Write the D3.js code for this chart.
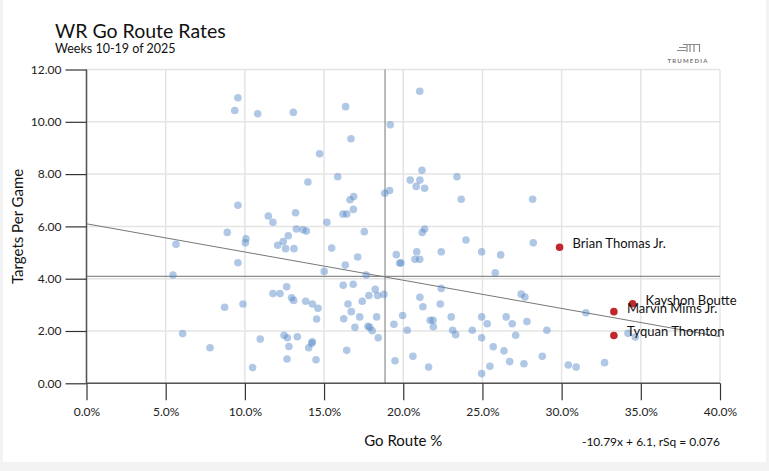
<!DOCTYPE html>
<html>
<head>
<meta charset="utf-8">
<script src="https://cdn.jsdelivr.net/npm/d3@7"></script>
<style>
  body { margin: 0; background: #f3f3f3; font-family: Lato, "Open Sans", sans-serif; }
  svg { display: block; }
</style>
</head>
<body>
<svg id="chart" width="769" height="471"></svg>
<script>
// go route % (x) and targets per game (y)
const goRoutePct = [
  9.56, 9.36, 10.81, 13.06, 16.36, 19.18, 16.70, 14.72, 15.86, 13.98, 18.83, 19.14, 16.87, 16.64, 16.85, 16.19, 16.43, 9.56, 11.48, 13.20, 11.77, 15.18,
  21.04, 21.18, 20.44, 21.05, 20.82, 21.35, 23.39, 23.66, 28.17,
  8.89, 13.25, 13.67, 13.88, 17.54, 5.65, 10.07, 10.03, 12.74, 12.42, 12.07, 12.57, 13.10, 15.48, 9.56, 5.46, 15.01, 16.34, 17.12, 17.66,
  19.56, 19.77, 19.86, 12.64, 11.77, 12.22, 12.95, 13.08, 13.84, 14.26, 14.62, 14.53, 8.72, 9.88, 16.21, 16.84, 18.23, 17.83, 18.38, 18.78,
  16.51, 17.41, 16.72, 17.25, 18.32, 16.24, 16.95, 17.77, 17.88, 18.04, 18.42, 19.41, 19.96, 20.25, 6.07, 7.80, 10.97, 12.47, 12.68, 13.31,
  12.78, 14.26, 14.22, 14.03, 12.66, 14.49, 16.43, 19.48, 10.49,
  21.35, 21.20, 23.96, 28.21, 20.85, 20.74, 21.04, 22.40, 24.95, 26.15, 25.81, 22.40, 21.05, 21.24, 22.34, 21.70, 21.88, 21.90, 23.03, 23.12,
  23.31, 24.36, 24.95, 25.30, 24.95, 26.50, 26.88, 27.81, 27.10, 29.07, 27.45, 27.68, 31.53, 34.19, 34.65, 25.68, 26.36, 20.61, 21.60, 24.95,
  25.47, 26.72, 27.62, 28.78, 30.42, 30.92, 32.71
];
const targetsPerGame = [
  10.92, 10.43, 10.31, 10.36, 10.58, 9.89, 9.35, 8.78, 7.90, 7.70, 7.27, 7.37, 7.14, 7.02, 6.65, 6.47, 6.47, 6.81, 6.40, 6.52, 6.16, 6.16,
  11.17, 8.15, 7.77, 7.77, 7.53, 7.46, 7.90, 7.04, 7.04,
  5.77, 5.90, 5.87, 5.82, 5.80, 5.32, 5.53, 5.37, 5.64, 5.42, 5.28, 5.15, 5.15, 5.17, 4.61, 4.14, 4.28, 4.52, 4.83, 4.14,
  4.92, 4.60, 4.60, 3.69, 3.43, 3.43, 3.27, 3.17, 3.14, 3.03, 2.87, 2.46, 2.91, 3.03, 3.75, 3.79, 3.59, 3.36, 3.36, 3.40,
  3.03, 3.14, 2.74, 2.54, 2.54, 2.47, 2.14, 2.18, 2.14, 2.01, 1.74, 2.26, 2.59, 2.03, 1.90, 1.36, 1.69, 1.84, 1.74, 1.78,
  1.41, 1.59, 1.53, 1.36, 0.93, 0.90, 1.26, 0.86, 0.60,
  5.90, 5.77, 5.48, 5.37, 5.03, 4.74, 4.74, 5.03, 5.03, 4.91, 4.23, 3.63, 3.29, 2.93, 3.03, 2.41, 2.41, 2.16, 2.54, 2.03,
  1.86, 2.03, 2.54, 2.28, 1.74, 2.54, 2.28, 2.36, 1.84, 2.03, 3.41, 3.30, 2.70, 1.91, 1.77, 1.40, 1.24, 1.03, 0.62, 0.37,
  0.65, 0.83, 0.75, 1.03, 0.70, 0.62, 0.79
];

// highlighted players
const playerNames = ["Brian Thomas Jr.", "Kayshon Boutte", "Marvin Mims Jr.", "Tyquan Thornton"];
const playerGoRoute = [29.87, 34.48, 33.30, 33.30];
const playerTargets = [5.20, 3.04, 2.74, 1.83];

const xTicks = [0, 5, 10, 15, 20, 25, 30, 35, 40];
const yTicks = [0, 2, 4, 6, 8, 10, 12];

const avgGoRoute = 18.85;
const avgTargets = 4.09;
const slope = -10.79;      // per unit of go route rate (fraction)
const intercept = 6.1;
const rSq = 0.076;

const svg = d3.select("#chart");

svg.append("rect")
    .attr("x", 3).attr("y", 0)
    .attr("width", 763).attr("height", 462)
    .attr("fill", "white");

const x = d3.scaleLinear().domain([0, 40]).range([86.5, 720]);
const y = d3.scaleLinear().domain([0, 12]).range([383.3, 69.5]);

// title
svg.append("text")
    .attr("x", 55).attr("y", 38)
    .attr("font-size", 19.5)
    .attr("fill", "#111")
    .text("WR Go Route Rates");
svg.append("text")
    .attr("x", 55).attr("y", 53)
    .attr("font-size", 12.5)
    .attr("fill", "#111")
    .text("Weeks 10-19 of 2025");

// logo
const logo = svg.append("g").attr("fill", "none").attr("stroke", "#8a8a8a").attr("stroke-width", 1.2);
logo.append("path").attr("d", "M677 50.5H686M679 47.5H686M683 44.5H700M687 44.5V52M690 44.5V52M694 44.5V52M699.5 44.5V52");
svg.append("text")
    .attr("x", 688).attr("y", 63)
    .attr("text-anchor", "middle")
    .attr("font-size", 6)
    .attr("font-weight", "bold")
    .attr("letter-spacing", 1.2)
    .attr("fill", "#777")
    .text("TRUMEDIA");

// grid
const grid = svg.append("g").attr("stroke", "#e4e4e4").attr("stroke-width", 1.5);
grid.selectAll(".gx")
  .data(xTicks)
  .join("line")
    .attr("x1", d => x(d)).attr("x2", d => x(d))
    .attr("y1", y(12)).attr("y2", y(0));
grid.selectAll(".gy")
  .data(yTicks)
  .join("line")
    .attr("x1", x(0)).attr("x2", x(40))
    .attr("y1", d => y(d)).attr("y2", d => y(d));

// average lines
svg.append("line")
    .attr("x1", x(avgGoRoute)).attr("x2", x(avgGoRoute))
    .attr("y1", y(12)).attr("y2", y(0))
    .attr("stroke", "#8c8c8c").attr("stroke-width", 1.2);
svg.append("line")
    .attr("x1", x(0)).attr("x2", x(40))
    .attr("y1", y(avgTargets)).attr("y2", y(avgTargets))
    .attr("stroke", "#8c8c8c").attr("stroke-width", 1.2);

// axes
const xAxis = svg.append("g")
    .attr("transform", `translate(0,${y(0)})`)
    .call(d3.axisBottom(x).tickValues(xTicks).tickSize(17).tickPadding(7)
      .tickFormat(d => d.toFixed(1) + "%"));
const yAxis = svg.append("g")
    .attr("transform", `translate(${x(0)},0)`)
    .call(d3.axisLeft(y).tickValues(yTicks).tickSize(21).tickPadding(4)
      .tickFormat(d3.format(".2f")));

[xAxis, yAxis].forEach(a => {
  a.select(".domain").attr("stroke", "#555").attr("stroke-width", 1.5);
  a.selectAll(".tick line").attr("stroke", "#333").attr("stroke-width", 1.2);
  a.selectAll(".tick text")
    .attr("font-family", "Lato, sans-serif")
    .attr("font-size", 12)
    .attr("fill", "#222");
});
xAxis.select(".domain").attr("d", `M${x(0)},0H${x(40)}`);
yAxis.select(".domain").attr("d", `M0,${y(12)}V${y(0)}`);

// regression line
svg.append("line")
    .attr("x1", x(0)).attr("y1", y(intercept))
    .attr("x2", x(40)).attr("y2", y(intercept + slope * 0.4))
    .attr("stroke", "#777").attr("stroke-width", 1);

// points
svg.append("g")
  .selectAll("circle")
  .data(goRoutePct.map((d, i) => [d, targetsPerGame[i]]))
  .join("circle")
    .attr("cx", d => x(d[0]))
    .attr("cy", d => y(d[1]))
    .attr("r", 3.8)
    .attr("fill", "#4f86c6")
    .attr("fill-opacity", 0.45);

const players = svg.append("g")
  .selectAll("g")
  .data(playerNames.map((n, i) => ({name: n, gx: playerGoRoute[i], tg: playerTargets[i]})))
  .join("g");
players.append("circle")
    .attr("cx", d => x(d.gx))
    .attr("cy", d => y(d.tg))
    .attr("r", 3.8)
    .attr("fill", "#c0282d");
players.append("text")
    .attr("x", d => x(d.gx) + 13)
    .attr("y", d => y(d.tg) - 3.5)
    .attr("dy", "0.35em")
    .attr("font-size", 13)
    .attr("fill", "#111")
    .text(d => d.name);

// axis titles
svg.append("text")
    .attr("x", (x(0) + x(40)) / 2).attr("y", 446)
    .attr("text-anchor", "middle")
    .attr("font-size", 15)
    .attr("fill", "#111")
    .text("Go Route %");
svg.append("text")
    .attr("transform", `translate(23,${(y(0) + y(12)) / 2}) rotate(-90)`)
    .attr("text-anchor", "middle")
    .attr("font-size", 15)
    .attr("fill", "#111")
    .text("Targets Per Game");
svg.append("text")
    .attr("x", x(40)).attr("y", 446)
    .attr("text-anchor", "end")
    .attr("font-size", 12)
    .attr("fill", "#111")
    .text(`${slope}x + ${intercept}, rSq = ${rSq}`);
</script>
</body>
</html>
